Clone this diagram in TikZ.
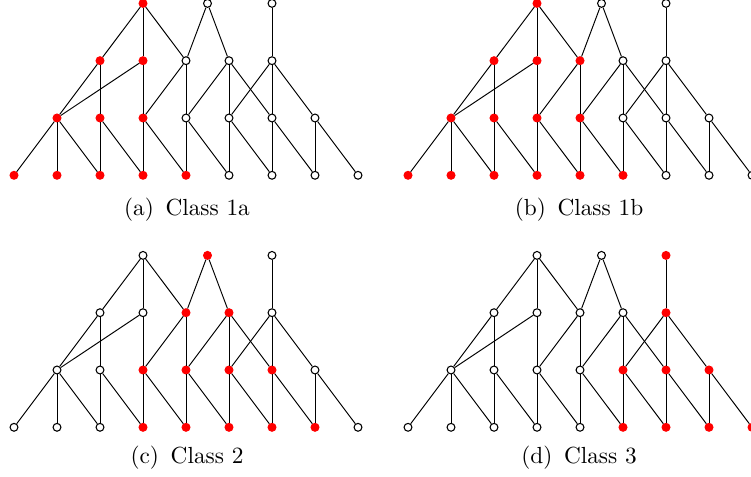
\documentclass[tikz,border=0pt]{standalone}
\tikzset{
  vtx/.style={circle, draw=black, fill=white, line width=0.5pt, inner sep=0pt, minimum size=3.7pt},
  hot/.style={draw=red, fill=red},
  paint/.style={hot #1/.style=hot},
  edge/.style={line width=0.45pt},
  subcap/.style={anchor=base, font=\fontsize{10.95}{13.6}\selectfont},
}
% one lattice, nodes t1..t3, m1..m5, r1..r7, b1..b9
\newcommand{\classgraph}{%
  \foreach \i in {1,...,9} \node[vtx, hot b\i/.try] (b\i) at ({14+43*(\i-1)},175.3) {};
  \foreach \i in {1,...,7} \node[vtx, hot r\i/.try] (r\i) at ({57+43*(\i-1)},118) {};
  \foreach \i in {1,...,5} \node[vtx, hot m\i/.try] (m\i) at ({100+43*(\i-1)},60.7) {};
  \node[vtx, hot t1/.try] (t1) at (143,3.4) {};
  \node[vtx, hot t2/.try] (t2) at (207.5,3.4) {};
  \node[vtx, hot t3/.try] (t3) at (272,3.4) {};
  \foreach \p/\c in {t1/m1, t1/m2, t1/m3, t2/m3, t2/m4, t3/m5,
                     m1/r1, m1/r2, m2/r1, m2/r3, m3/r3, m3/r4,
                     m4/r4, m4/r5, m4/r6, m5/r5, m5/r6, m5/r7, r1/b1}
    \draw[edge] (\p) -- (\c);
  \foreach \i [evaluate=\i as \j using int(\i+1), evaluate=\i as \k using int(\i+2)] in {1,...,7} {
    \draw[edge] (r\i) -- (b\j);
    \draw[edge] (r\i) -- (b\k);
  }%
}

\begin{document}
\begin{tikzpicture}[x=0.47pt, y=-0.47pt]
\useasboundingbox (0,0) rectangle (751,477);

\begin{scope}[name prefix=a-, paint/.list={t1,m1,m2,r1,r2,r3,b1,b2,b3,b4,b5}]
  \classgraph
\end{scope}
\begin{scope}[shift={(394,0)}, name prefix=b-, paint/.list={t1,m1,m2,m3,r1,r2,r3,r4,b1,b2,b3,b4,b5,b6}]
  \classgraph
\end{scope}
\begin{scope}[shift={(0,252)}, name prefix=c-, paint/.list={t2,m3,m4,r3,r4,r5,r6,b4,b5,b6,b7,b8}]
  \classgraph
\end{scope}
\begin{scope}[shift={(394,252)}, name prefix=d-, paint/.list={t3,m5,r5,r6,r7,b6,b7,b8,b9}]
  \classgraph
\end{scope}

\node[subcap] (capa) at (187,216) {(a)\hspace{0.5em}Class 1a};
\node[subcap] (capb) at (579,216) {(b)\hspace{0.5em}Class 1b};
\node[subcap] (capc) at (187,463.5) {(c)\hspace{0.5em}Class 2};
\node[subcap] (capd) at (579,463.5) {(d)\hspace{0.5em}Class 3};
\end{tikzpicture}
\end{document}
